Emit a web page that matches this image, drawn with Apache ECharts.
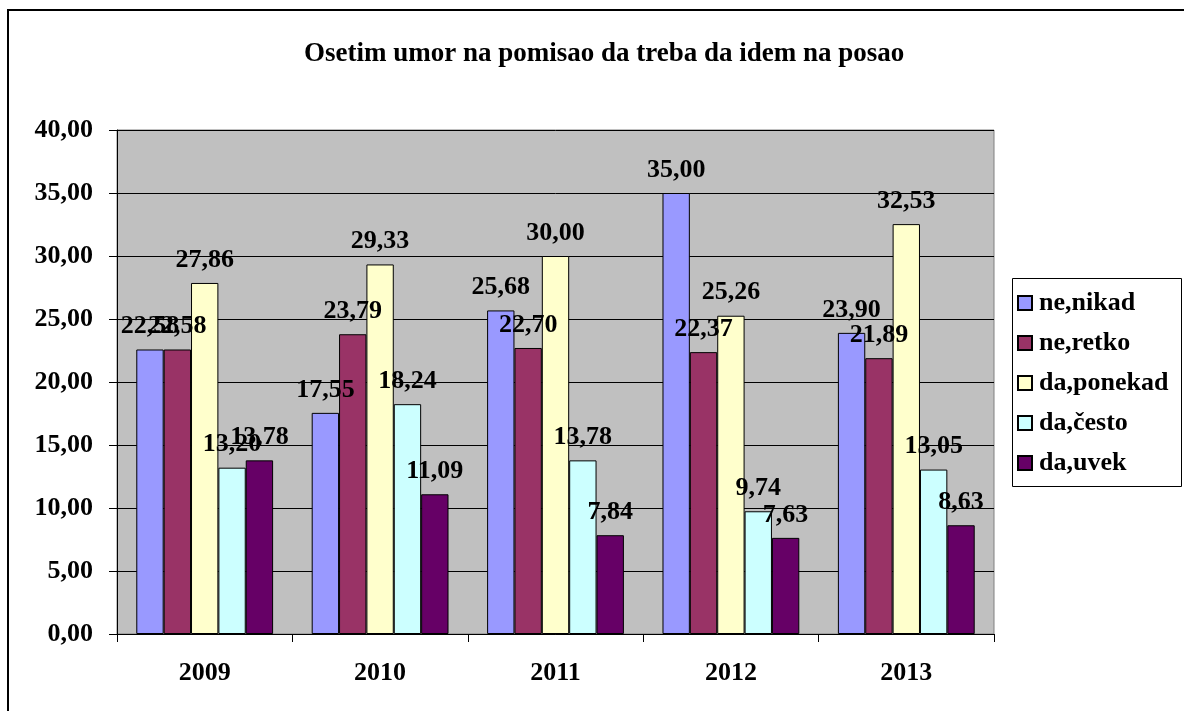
<!DOCTYPE html>
<html>
<head>
<meta charset="utf-8">
<script src="https://cdn.jsdelivr.net/npm/echarts@6/dist/echarts.min.js"></script>
<style>
html,body{margin:0;padding:0;background:#fff;}
#chart{width:1184px;height:711px;}
</style>
</head>
<body>
<div id="chart"></div>
<script>
var categories = ['2009', '2010', '2011', '2012', '2013'];
var seriesNames = ['ne,nikad', 'ne,retko', 'da,ponekad', 'da,često', 'da,uvek'];
var neNikad   = [22.58, 17.55, 25.68, 35.00, 23.90];
var neRetko   = [22.58, 23.79, 22.70, 22.37, 21.89];
var daPonekad = [27.86, 29.33, 30.00, 25.26, 32.53];
var daCesto   = [13.20, 18.24, 13.78, 9.74, 13.05];
var daUvek    = [13.78, 11.09, 7.84, 7.63, 8.63];
var colors = ['#9999FF', '#993366', '#FFFFCC', '#CCFFFF', '#660066'];
var titleText = 'Osetim umor na pomisao da treba da idem na posao';

var FONT = '"Liberation Serif", "Times New Roman", serif';
function fmt(v) { return Number(v).toFixed(2).replace('.', ','); }

var allData = [neNikad, neRetko, daPonekad, daCesto, daUvek];
var series = allData.map(function (d, i) {
  return {
    name: seriesNames[i],
    type: 'bar',
    data: d,
    barGap: '0%',
    barCategoryGap: '22%',
    itemStyle: { color: colors[i], borderColor: '#000', borderWidth: 1 },
    label: {
      show: true,
      position: 'top',
      distance: 10,
      color: '#000',
      fontFamily: FONT,
      fontWeight: 'bold',
      fontSize: 26,
      formatter: function (p) { return fmt(p.value); }
    }
  };
});

var chart = echarts.init(document.getElementById('chart'), null, { renderer: 'canvas' });
chart.setOption({
  animation: false,
  backgroundColor: '#fff',
  color: colors,
  title: {
    text: titleText,
    left: 299,
    top: 36,
    textStyle: { fontFamily: FONT, fontWeight: 'bold', fontSize: 27, color: '#000' }
  },
  legend: {
    orient: 'vertical',
    left: 1017,
    top: 290,
    itemWidth: 14,
    itemHeight: 14,
    itemGap: 14,
    padding: 0,
    icon: 'rect',
    data: seriesNames,
    textStyle: { fontFamily: FONT, fontWeight: 'bold', fontSize: 26, lineHeight: 26, color: '#000', padding: [0, 0, 0, 2] }
  },
  grid: {
    left: 117, right: 190, top: 130, bottom: 77,
    show: true, backgroundColor: '#C0C0C0', borderColor: '#808080', borderWidth: 1,
    containLabel: false
  },
  xAxis: {
    type: 'category',
    data: categories,
    axisLine: { lineStyle: { color: '#000', width: 1 } },
    axisTick: { show: true, alignWithLabel: false, length: 8, lineStyle: { color: '#000' } },
    axisLabel: { margin: 26, color: '#000', fontFamily: FONT, fontWeight: 'bold', fontSize: 26 }
  },
  yAxis: {
    type: 'value',
    min: 0, max: 40, interval: 5,
    axisLine: { show: true, lineStyle: { color: '#000', width: 1 } },
    axisTick: { show: true, length: 8, lineStyle: { color: '#000' } },
    splitLine: { show: true, lineStyle: { color: '#000', width: 1 } },
    axisLabel: { margin: 24, color: '#000', fontFamily: FONT, fontWeight: 'bold', fontSize: 26, formatter: fmt }
  },
  graphic: [
    { type: 'rect', shape: { x: 8, y: 10, width: 1300, height: 900 }, style: { fill: 'none', stroke: '#000', lineWidth: 2 }, silent: true, z: 100 },
    { type: 'rect', shape: { x: 1012.5, y: 278.5, width: 169, height: 208 }, style: { fill: 'none', stroke: '#000', lineWidth: 1 }, silent: true, z: 100 }
  ],
  series: series
});
</script>
</body>
</html>
